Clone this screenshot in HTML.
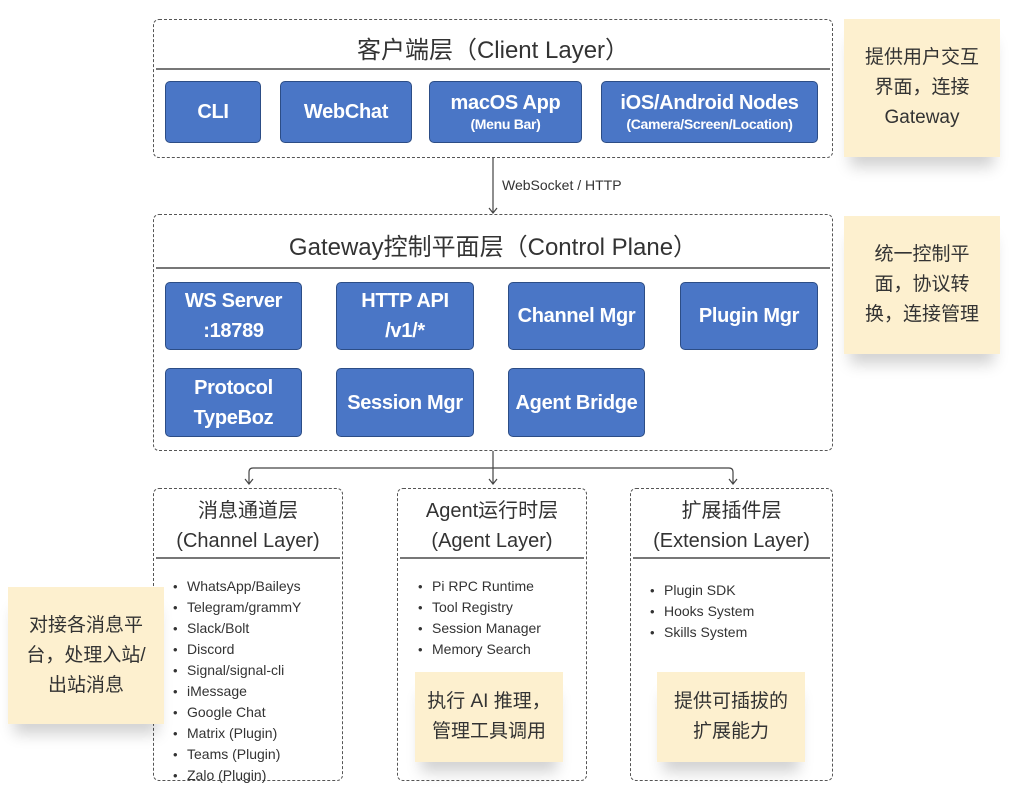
<!DOCTYPE html>
<html><head><meta charset="utf-8"><style>
*{margin:0;padding:0;box-sizing:border-box}
body{width:1030px;height:811px;background:#fff;position:relative;overflow:hidden;font-family:"Liberation Sans","Noto Sans CJK SC",sans-serif;color:#333}
.box{position:absolute;border:1.3px dashed #555;border-radius:6px}
.title{position:absolute;left:0;right:0;text-align:center;color:#333}
.div{position:absolute;left:2px;right:2px;height:2px;background:#777}
.btn{position:absolute;background:#4a76c6;border:1.3px solid #2c4d86;border-radius:5px;color:#fff;font-weight:bold;display:flex;flex-direction:column;align-items:center;justify-content:center;text-align:center;font-size:20px;line-height:30px;letter-spacing:-0.3px}
.btn small{font-size:14px;line-height:18px}
.note{position:absolute;background:#fdf0cf;display:flex;align-items:center;justify-content:center;text-align:center;font-size:19px;line-height:30px;color:#333;box-shadow:0 16px 14px -6px rgba(0,0,0,0.18)}
ul{position:absolute;list-style:none;font-size:14px;line-height:20px;color:#333}
ul li:before{content:"•";display:inline-block;width:14px;font-size:13px}
</style></head><body>

<div class="box" style="left:153px;top:19px;width:680px;height:139px">
  <div class="title" style="top:10px;font-size:24px">客户端层（Client Layer）</div>
  <div class="div" style="top:48px"></div>
</div>
<div class="btn" style="left:165px;top:81px;width:96px;height:62px">CLI</div>
<div class="btn" style="left:280px;top:81px;width:132px;height:62px">WebChat</div>
<div class="btn" style="left:429px;top:81px;width:153px;height:62px"><span style="line-height:24px">macOS App</span><small>(Menu Bar)</small></div>
<div class="btn" style="left:601px;top:81px;width:217px;height:62px"><span style="line-height:24px">iOS/Android Nodes</span><small>(Camera/Screen/Location)</small></div>

<svg style="position:absolute;left:0;top:0" width="1030" height="811">
<g stroke="#444" stroke-width="1.2" fill="none">
<line x1="493" y1="158" x2="493" y2="213"/>
<polyline points="489,208 493,213 497,208"/>
<line x1="493" y1="451" x2="493" y2="484"/>
<path d="M249,484 V472 Q249,468 253,468 H729 Q733,468 733,472 V484"/>
<polyline points="245,479 249,484 253,479"/>
<polyline points="489,479 493,484 497,479"/>
<polyline points="729,479 733,484 737,479"/>
</g></svg>
<div style="position:absolute;left:502px;top:177px;font-size:14px;color:#333">WebSocket / HTTP</div>

<div class="box" style="left:153px;top:214px;width:680px;height:237px">
  <div class="title" style="top:12px;font-size:24px">Gateway控制平面层（Control Plane）</div>
  <div class="div" style="top:52px"></div>
</div>
<div class="btn" style="left:165px;top:282px;width:137px;height:68px">WS Server<br>:18789</div>
<div class="btn" style="left:336px;top:282px;width:138px;height:68px">HTTP API<br>/v1/*</div>
<div class="btn" style="left:508px;top:282px;width:137px;height:68px">Channel Mgr</div>
<div class="btn" style="left:680px;top:282px;width:138px;height:68px">Plugin Mgr</div>
<div class="btn" style="left:165px;top:368px;width:137px;height:69px">Protocol<br>TypeBoz</div>
<div class="btn" style="left:336px;top:368px;width:138px;height:69px">Session Mgr</div>
<div class="btn" style="left:508px;top:368px;width:137px;height:69px">Agent Bridge</div>

<div class="note" style="left:844px;top:19px;width:156px;height:138px">提供用户交互<br>界面，连接<br>Gateway</div>
<div class="note" style="left:844px;top:216px;width:156px;height:138px">统一控制平<br>面，协议转<br>换，连接管理</div>

<div class="box" style="left:153px;top:488px;width:190px;height:293px">
  <div class="title" style="top:7px;font-size:20px;line-height:30px">消息通道层<br>(Channel Layer)</div>
  <div class="div" style="top:68px"></div>
</div>
<ul style="left:173px;top:576px">
<li>WhatsApp/Baileys</li><li>Telegram/grammY</li><li>Slack/Bolt</li><li>Discord</li><li>Signal/signal-cli</li><li>iMessage</li><li>Google Chat</li><li>Matrix (Plugin)</li><li>Teams (Plugin)</li><li>Zalo (Plugin)</li>
</ul>

<div class="box" style="left:397px;top:488px;width:190px;height:293px">
  <div class="title" style="top:7px;font-size:20px;line-height:30px">Agent运行时层<br>(Agent Layer)</div>
  <div class="div" style="top:68px"></div>
</div>
<ul style="left:418px;top:576px">
<li>Pi RPC Runtime</li><li>Tool Registry</li><li>Session Manager</li><li>Memory Search</li>
</ul>

<div class="box" style="left:630px;top:488px;width:203px;height:293px">
  <div class="title" style="top:7px;font-size:20px;line-height:30px">扩展插件层<br>(Extension Layer)</div>
  <div class="div" style="top:68px"></div>
</div>
<ul style="left:650px;top:580px">
<li>Plugin SDK</li><li>Hooks System</li><li>Skills System</li>
</ul>

<div class="note" style="left:8px;top:587px;width:156px;height:137px">对接各消息平<br>台，处理入站/<br>出站消息</div>
<div class="note" style="left:415px;top:672px;width:148px;height:90px">执行 AI 推理，<br>管理工具调用</div>
<div class="note" style="left:657px;top:672px;width:148px;height:90px">提供可插拔的<br>扩展能力</div>

</body></html>
